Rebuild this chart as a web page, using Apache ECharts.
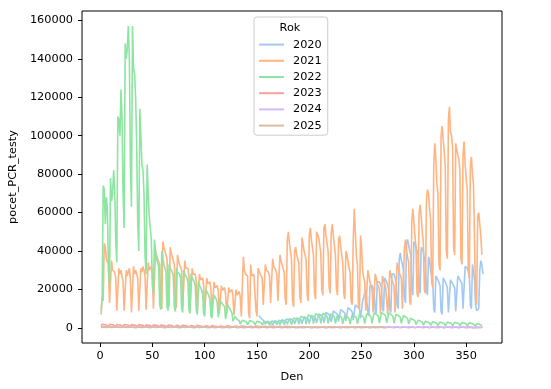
<!DOCTYPE html>
<html><head><meta charset="utf-8">
<script src="https://cdn.jsdelivr.net/npm/echarts@6/dist/echarts.min.js"></script>
<style>html,body{margin:0;padding:0;background:#fff}#c{width:551px;height:389px}</style>
</head><body><div id="c"></div>
<script>
// ---- data (day of year -> pocet_PCR_testy) ----
const years = ['2020','2021','2022','2023','2024','2025'];
const startDay = {'2020':152,'2021':1,'2022':1,'2023':1,'2024':1,'2025':1};
const xTicks = [0,50,100,150,200,250,300,350];
const yTicks = [0,20000,40000,60000,80000,100000,120000,140000,160000];

const v2020 = [6500,
5500,5000,4200,4000,3600,2000,1800,
3500,3300,3100,3000,2800,1600,1400,
3700,3500,3300,3100,2900,1700,1500,
4200,4000,3800,3500,3300,1900,1600,
4800,4600,4400,4100,3800,2100,1800,
5200,5000,4800,4500,4200,2200,1900,
5800,5500,5200,4900,4500,2300,2000,
6500,6200,5900,5500,5000,2500,2200,
7200,6900,6600,6200,5700,2700,2400,
8000,7600,7300,6900,6300,3000,2600,
8800,8400,8000,7600,7000,3300,2800,
9500,9100,8700,8200,7600,3600,3100,
10500,10000,9600,9100,8400,4000,3400,
12000,11500,11000,10500,9800,5000,4200,
14000,16000,18000,20000,19000,8000,6500,
22000,23000,22000,21000,19000,9000,7500,
24000,25000,24000,23000,21000,10000,8500,
26000,25000,24000,22000,20000,9500,8000,
28000,27000,28000,26000,24000,12000,10000,
36000,39000,35000,33000,30000,16000,13000,
44000,46000,43000,40000,38000,20000,17000,
45000,44000,42000,40000,38000,22000,18000,
42000,43000,40000,36000,33000,20000,17000,
37000,35000,30000,27000,25000,10000,8000,
27000,26000,25000,24000,22000,8500,7000,
26000,25000,24000,23000,21000,8000,7000,
25000,24000,23000,22000,21000,8500,7500,
27000,26000,25000,24000,23000,10000,9000,
32000,33000,31000,30000,28000,12000,10000,
33000,32000,25000,12000,9000,8000,10000,
30000,35000,33000,28000];

const v2021 = [7000,16000,14000,
44000,42000,36000,37000,33000,13000,12000,
35000,30000,31000,29000,26000,9000,8000,
31000,28000,30000,27000,24000,9000,8500,
30000,27000,29000,31000,25000,8000,7500,
32000,28000,30000,29000,26000,9000,8000,
31000,29000,32000,30000,27000,9500,8500,
34000,30000,31000,32000,28000,10000,9000,
40000,38000,36000,37000,33000,12000,10000,
45000,42000,40000,41000,36000,13000,11000,
42000,39000,37000,38000,33000,12000,10500,
38000,35000,33000,34000,30000,11000,10000,
35000,31000,30000,31000,27000,10000,9000,
31000,28000,27000,28000,24000,9000,8000,
28000,25000,24000,26000,22000,8500,7500,
26000,23000,22000,24000,20000,8000,7000,
24000,21000,20000,22000,19000,7500,6500,
22000,19500,19000,21000,18000,7000,6500,
21000,18500,18000,20000,17000,6500,6000,
20000,17000,17000,19000,16000,6000,5500,
37000,30000,28000,29000,27000,8000,5000,
33000,27000,26000,28000,29000,9000,6000,
31000,30000,28000,29000,26000,12000,11000,
33000,30000,31000,29000,27000,13000,12000,
36000,32000,33000,30000,28000,14000,13000,
38000,35000,33000,31000,29000,15000,12000,
46000,50000,44000,40000,36000,14000,11000,
40000,42000,38000,37000,34000,16000,13000,
47000,44000,40000,38000,35000,17000,14000,
48000,52000,46000,42000,38000,18000,15000,
50000,51000,47000,43000,39000,20000,17000,
52000,54000,48000,44000,40000,21000,18000,
50000,54000,48000,43000,38000,20000,17000,
46000,48000,42000,38000,34000,18000,15000,
40000,38000,35000,31000,29000,14000,12000,
45000,62000,50000,38000,33000,12000,10000,
48000,42000,30000,26000,24000,9000,8000,
30000,27000,24000,22000,20000,8000,7000,
28000,26000,23000,22000,20000,7500,6500,
27000,25000,23000,21000,20000,7000,6000,
30000,27000,25000,24000,22000,8000,7000,
34000,31000,29000,28000,26000,10000,9000,
42000,46000,40000,37000,34000,14000,12000,
55000,62000,55000,48000,42000,18000,16000,
60000,64000,58000,50000,45000,20000,18000,
66000,72000,70000,62000,56000,24000,21000,
85000,96000,88000,75000,70000,33000,30000,
100000,105000,98000,92000,84000,40000,36000,
108000,115000,102000,100000,94000,42000,38000,
96000,97000,90000,88000,82000,36000,33000,
90000,97000,85000,78000,72000,30000,26000,
84000,89000,80000,75000,45000,15000,12000,
58000,60000,54000,48000,38000];

const v2022 = [9000,16000,
74000,72000,54000,68000,62000,30000,22000,
78000,66000,70000,82000,72000,45000,34000,
110000,108000,100000,124000,110000,70000,52000,
148000,140000,145000,157000,140000,85000,63000,
157000,135000,132000,120000,95000,55000,40000,
114000,100000,85000,82000,70000,38000,28000,
85000,70000,58000,52000,46000,22000,18000,
46000,40000,36000,35000,32000,12000,9500,
40000,36000,33000,32000,29000,11000,9000,
33000,31000,30000,29000,27000,10500,8500,
31000,29000,28000,28000,26000,10000,8000,
30000,28000,27000,26000,24000,9500,7500,
28000,26000,25000,24000,22000,9000,7000,
24000,22000,21000,20000,18000,7500,6000,
20000,19000,18000,17000,15000,6500,5000,
14000,17000,16000,15000,13000,5500,4500,
14000,13000,12500,12000,11000,4500,3800,
12000,11000,10000,9500,8000,3500,3000,
6000,5000,4500,4200,3800,2000,1700,
4000,3800,3600,3400,3000,1600,1400,
3800,3600,3400,3200,2900,1500,1300,
3500,3300,3100,3000,2700,1400,1200,
3400,3200,3000,2900,2600,1400,1200,
3600,3400,3300,3100,2800,1500,1300,
4000,3800,3600,3400,3100,1600,1400,
4600,4400,4200,4000,3600,1700,1500,
5200,5000,4800,4600,4200,1900,1600,
6000,5800,5500,5200,4800,2000,1700,
6800,6500,6200,5900,5400,2200,1900,
7400,7000,6800,6400,5800,2300,2000,
7600,7300,7000,6600,6000,2400,2000,
7200,7000,6700,6300,5700,2300,1900,
6800,6500,6200,5800,5300,2100,1800,
6500,6200,5900,5600,5000,2000,1700,
6800,6500,6200,5800,5300,2100,1800,
7000,6800,6400,6000,5500,2200,1900,
7400,7100,6800,6400,5800,2400,2000,
7800,7500,7100,6700,6100,2500,2100,
8000,7700,7300,6900,6300,2600,2200,
7800,7500,7100,6700,6000,2500,2100,
7200,6900,6500,6100,5500,2300,1900,
6500,6200,5800,5400,4900,2100,1700,
5000,4700,4400,4100,3700,1700,1400,
4000,3800,3600,3300,3000,1500,1200,
3500,3300,3100,2900,2600,1300,1100,
3200,3000,2800,2600,2400,1200,1000,
3100,2900,2700,2600,2300,1200,1000,
3000,2800,2700,2500,2300,1100,950,
2900,2700,2600,2400,2200,1100,950,
2800,2600,2500,2300,2100,1000,900,
2700,2500,2400,2200,1900,900,800,
2200,2100,2000,1800,1500,900];

const v2023 = [600,
1900,1800,1700,1600,1500,600,500,
1900,1800,1700,1600,1500,600,500,
1800,1700,1600,1500,1400,600,500,
1800,1700,1600,1500,1400,550,450,
1700,1600,1500,1400,1300,550,450,
1700,1600,1500,1400,1300,500,450,
1600,1500,1400,1300,1200,500,400,
1600,1500,1400,1300,1200,500,400,
1500,1400,1300,1200,1100,450,400,
1500,1400,1300,1200,1100,450,400,
1400,1300,1200,1100,1000,450,350,
1400,1300,1200,1100,1000,400,350,
1300,1200,1100,1000,950,400,350,
1300,1200,1100,1000,900,400,350,
1200,1100,1000,950,900,400,350,
1200,1100,1000,950,850,380,330,
1100,1000,950,900,850,380,330,
1100,1000,950,900,800,380,330,
1000,950,900,850,800,350,300,
1000,950,900,850,800,350,300,
950,900,850,800,750,350,300,
950,900,850,800,750,350,300,
900,850,800,750,700,330,300,
900,850,800,750,700,330,300,
850,800,750,700,650,320,280,
850,800,750,700,650,320,280,
600,560,530,500,470,250,220,
580,540,510,480,450,240,210,
560,520,490,460,430,230,200,
540,500,470,440,420,220,200,
520,490,460,430,410,220,190,
500,470,450,420,400,210,190,
490,460,440,410,390,210,180,
480,450,430,400,380,200,180,
470,440,420,400,380,200,180,
460,430,410,390,370,200,170,
450,420,400,380,360,190,170,
440,410,390,370,350,190,170,
430,400,380,360,340,180,160,
420,400,380,360,340,180,160,
410,390,370,350,330,170,150,
400,380,360,340,320,170,150,
400,380,360,340,320,170,150,
390,370,350,330,310,160,140,
390,370,350,330,310,160,140,
380,360,340,320,300,160,140,
380,360,340,320,300,150,130,
370,350,330,310,290,150,130,
370,350,330,310,290,150,130,
360,340,320,300,280,150,130,
340,320,300,280,260,140,120,
150,120,250,280,260,140,120];

const v2024 = [
300,650,620,600,550,200,160,
680,640,620,590,540,200,160,
660,630,600,580,530,200,160,
650,620,590,570,520,190,150,
640,610,580,560,510,190,150,
630,600,570,550,500,190,150,
620,590,560,540,500,180,150,
610,580,550,530,490,180,150,
600,570,540,520,480,180,140,
590,560,530,510,470,180,140,
580,550,520,500,460,170,140,
570,540,510,490,450,170,140,
560,530,500,480,300,150,130,
250,520,500,470,440,170,140,
540,510,490,460,430,160,130,
530,500,480,450,420,160,130,
520,490,470,440,410,160,130,
510,480,460,430,400,150,130,
500,470,450,420,400,150,120,
490,460,440,410,390,150,120,
480,450,430,400,380,150,120,
470,440,420,400,380,140,120,
460,430,410,390,370,140,120,
450,430,410,390,370,140,120,
450,420,400,380,360,140,110,
440,420,400,380,360,140,110,
440,410,390,370,350,130,110,
430,410,390,370,350,130,110,
430,400,380,360,340,130,110,
420,400,380,360,340,130,110,
420,400,380,360,340,130,110,
430,410,390,370,350,130,110,
440,420,400,380,360,140,110,
450,430,410,390,370,140,120,
460,440,420,400,380,140,120,
480,450,430,410,390,150,120,
490,460,440,420,400,150,120,
500,470,450,430,410,150,130,
510,480,460,440,420,160,130,
520,490,470,450,430,160,130,
530,500,480,460,440,160,130,
540,510,490,470,450,170,140,
550,520,500,480,460,170,140,
560,530,510,490,470,170,140,
570,540,520,500,480,180,140,
580,550,530,510,490,180,150,
590,560,540,520,500,180,150,
600,570,550,530,510,190,150,
610,580,560,540,520,190,150,
620,590,570,550,530,190,150,
600,570,550,530,400,150,120,
450,200,150,400,420,180,150,
500,450];

const v2025 = [150,520,500,200,160,
560,540,520,500,470,190,160,
560,540,520,500,470,190,160,
550,530,510,490,460,180,150,
550,530,510,490,460,180,150,
540,520,500,480,450,180,150,
540,520,500,480,450,180,150,
530,510,490,470,440,170,150,
530,510,490,470,440,170,150,
520,500,480,460,430,170,140,
520,500,480,460,430,170,140,
510,490,470,450,420,160,140,
510,490,470,450,420,160,140,
500,480,460,440,410,160,140,
500,480,460,440,410,160,140,
490,470,450,430,300,150,130,
200,460,440,420,400,150,130,
480,460,440,420,400,150,130,
470,450,430,410,390,150,130,
470,450,430,410,390,150,120,
460,440,420,400,380,140,120,
460,440,420,400,380,140,120,
450,430,410,390,370,140,120,
450,430,410,390,370,140,120,
440,420,400,380,360,130,110,
440,420,400,380,360,130,110,
430,410,390,370,350,130,110,
430,410,390,370,350,130,110,
420,400,380,360,340,130,110,
420,400,380,360,340,130,110,
420,400,380,360,340,130,110,
430,410,390,370,350,130,110,
430,410,390,370,350,130,110,
440,420,400,380,360,140,110,
440,420,400,380,360,140,120,
450,430,410,390,370,140,120,
460,440,420,400,380,150,120,
470,450,430,410,390,150,130,
480,460,440,420,400,150,130,
490,470];

const values = {'2020':v2020,'2021':v2021,'2022':v2022,'2023':v2023,'2024':v2024,'2025':v2025};
const colors = {'2020':'#a1c9f4','2021':'#ffb482','2022':'#8de5a1','2023':'#ff9f9b','2024':'#d0bbff','2025':'#debb9b'};

const FONT = 'DejaVu Sans';
const FS = 11.3;

const series = years.map(y => ({
  name: y, type: 'line', symbol: 'none', showSymbol: false, smooth: false,
  data: values[y].map((v, i) => [startDay[y] + i, v]),
  lineStyle: { width: 1.6, color: colors[y] },
  itemStyle: { color: colors[y] },
  emphasis: { disabled: true },
  animation: false
}));

const chart = echarts.init(document.getElementById('c'), null, { renderer: 'canvas' });
chart.setOption({
  backgroundColor: '#fff',
  animation: false,
  grid: { left: 79, right: 49, top: 11, bottom: 46, show: true, borderColor: '#000', borderWidth: 1, backgroundColor: 'rgba(0,0,0,0)' },
  xAxis: {
    type: 'value', min: -17.25, max: 384.25,
    axisLine: { show: false, onZero: false },
    axisTick: { show: true, length: 4, customValues: xTicks, lineStyle: { color: '#000', width: 1 } },
    axisLabel: { customValues: xTicks, color: '#000', fontSize: FS, fontFamily: FONT, margin: 8, formatter: v => String(v) },
    splitLine: { show: false },
    name: 'Den', nameLocation: 'middle', nameGap: 29,
    nameTextStyle: { color: '#000', fontSize: FS, fontFamily: FONT }
  },
  yAxis: {
    type: 'value', min: -7850, max: 164850,
    axisLine: { show: false, onZero: false },
    axisTick: { show: true, length: 4, customValues: yTicks, lineStyle: { color: '#000', width: 1 } },
    axisLabel: { customValues: yTicks, color: '#000', fontSize: FS, fontFamily: FONT, margin: 9, formatter: v => String(v) },
    splitLine: { show: false },
    name: 'pocet_PCR_testy', nameLocation: 'middle', nameGap: 57, nameRotate: 90,
    nameTextStyle: { color: '#000', fontSize: FS, fontFamily: FONT }
  },
  legend: {
    orient: 'vertical', left: 254, top: 17,
    padding: [22, 6, 4, 4], itemWidth: 25, itemHeight: 14, itemGap: 5,
    backgroundColor: 'rgba(255,255,255,0.8)', borderColor: '#cccccc', borderWidth: 1, borderRadius: 3,
    itemStyle: { opacity: 0 },
    lineStyle: { width: 2 },
    textStyle: { color: '#000', fontSize: FS, fontFamily: FONT, padding: [0, 0, 0, 4] },
    data: years, selectedMode: false
  },
  graphic: [{
    type: 'text', z: 100,
    style: { text: 'Rok', x: 290, y: 28, textAlign: 'center', textVerticalAlign: 'middle', font: FS + 'px "' + FONT + '"', fill: '#000' }
  }],
  series: series
});
</script>
</body></html>
